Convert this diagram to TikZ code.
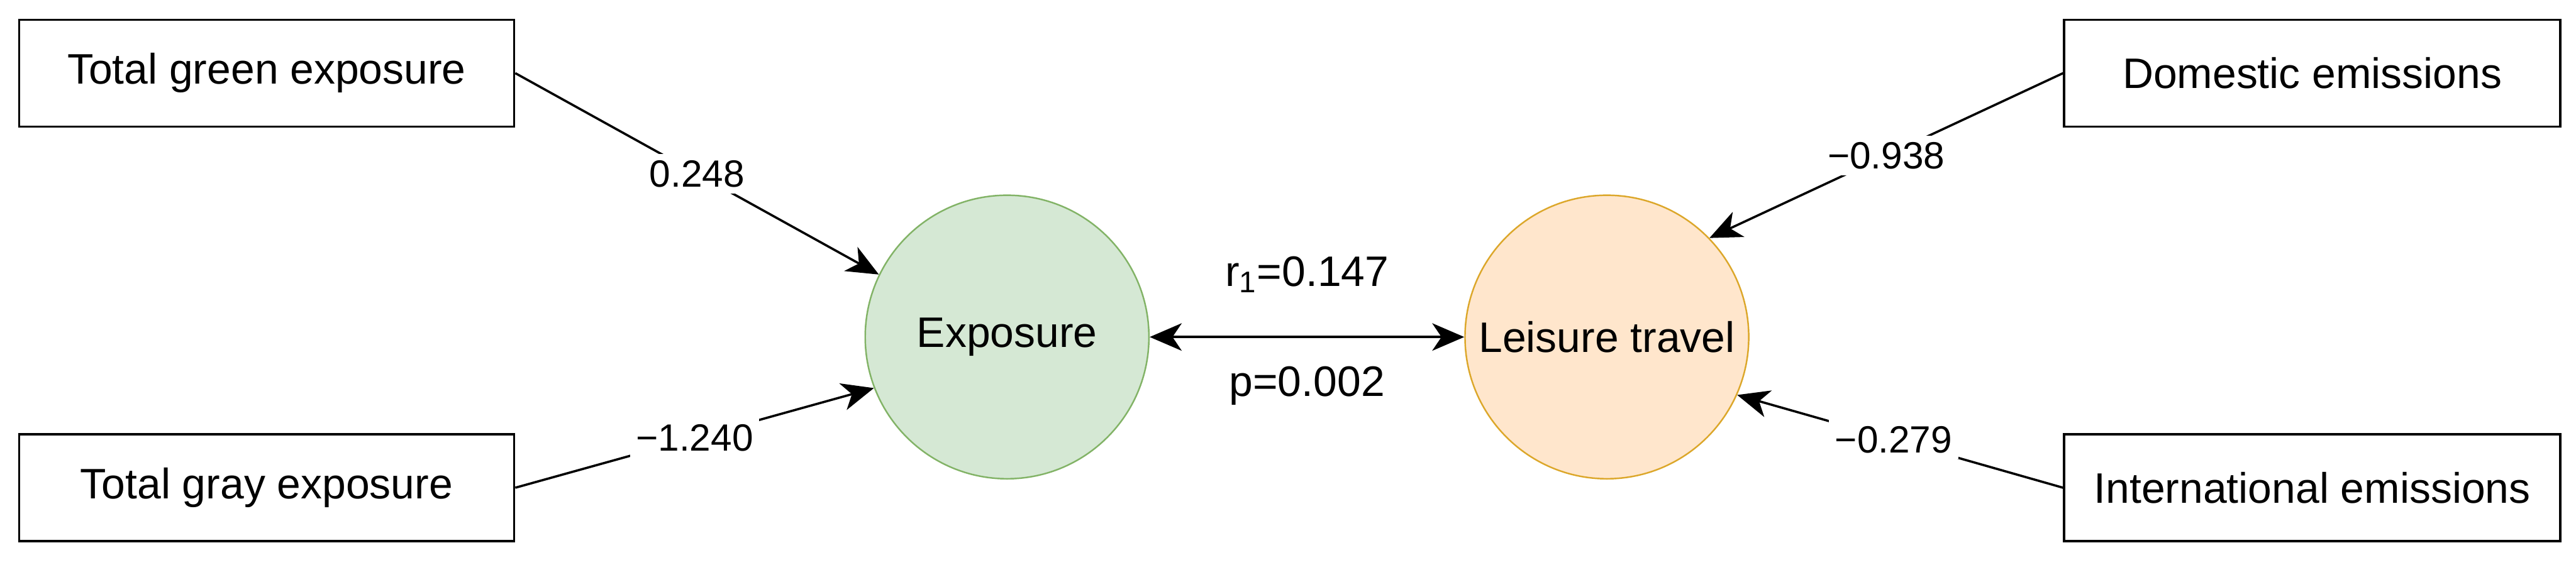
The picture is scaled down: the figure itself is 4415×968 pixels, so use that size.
\documentclass[tikz,border=0pt]{standalone}
\usepackage{fontspec}
\setmainfont{Liberation Sans}
\usetikzlibrary{arrows.meta}
\definecolor{gfill}{HTML}{D5E8D4}
\definecolor{gline}{HTML}{82B366}
\definecolor{ofill}{HTML}{FFE6CC}
\definecolor{oline}{HTML}{DCA72A}
\tikzset{
  varbox/.style={draw=black, line width=1.1pt, minimum height=1.83cm, inner sep=0pt,
    font=\fontsize{20.8}{25}\selectfont},
  latent/.style={circle, minimum size=4.86cm, inner sep=0pt, line width=0.75pt,
    font=\fontsize{20.8}{25}\selectfont},
  arr/.style={line width=1.1pt, -{Stealth[length=15.6pt,width=13.4pt,inset=4.5pt]}},
  darr/.style={line width=1.1pt, {Stealth[length=15.6pt,width=13.4pt,inset=4.5pt]}-{Stealth[length=15.6pt,width=13.4pt,inset=4.5pt]}},
  coef/.style={fill=white, inner sep=3pt, font=\fontsize{18.5}{22}\selectfont},
  corr/.style={inner sep=0pt, font=\fontsize{20.8}{25}\selectfont},
}
\begin{document}
\begin{tikzpicture}[x=0.01cm,y=0.01cm]
\useasboundingbox (0,0) rectangle (4415,968);
\node[varbox, minimum width=8.48cm] (tg) at (457,842.5) {Total green exposure};
\node[varbox, minimum width=8.48cm] (ty) at (457,131.5) {Total gray exposure};
\node[varbox, minimum width=8.50cm] (de) at (3963,842.5) {Domestic emissions};
\node[varbox, minimum width=8.50cm] (ie) at (3963,131.5) {International emissions};
\node[latent, draw=gline, fill=gfill] (exp) at (1726,390) {Exposure};
\node[latent, draw=oline, fill=ofill] (lei) at (2754,390) {Leisure travel};
\draw[arr] (tg.east) -- node[coef, pos=0.5] {0.248} (exp.154);
\draw[arr] (ty.east) -- node[coef, pos=0.5] {−1.240} (exp.201);
\draw[arr] (de.west) -- node[coef, pos=0.5] {−0.938} (lei.44.5);
\draw[arr] (ie.west) -- node[coef, pos=0.52] {−0.279} (lei.336);
\draw[darr] (exp.east) -- node[corr, midway, yshift=1.07cm] {r\textsubscript{1}=0.147}
  node[corr, midway, yshift=-0.84cm] {p=0.002} (lei.west);
\end{tikzpicture}
\end{document}
